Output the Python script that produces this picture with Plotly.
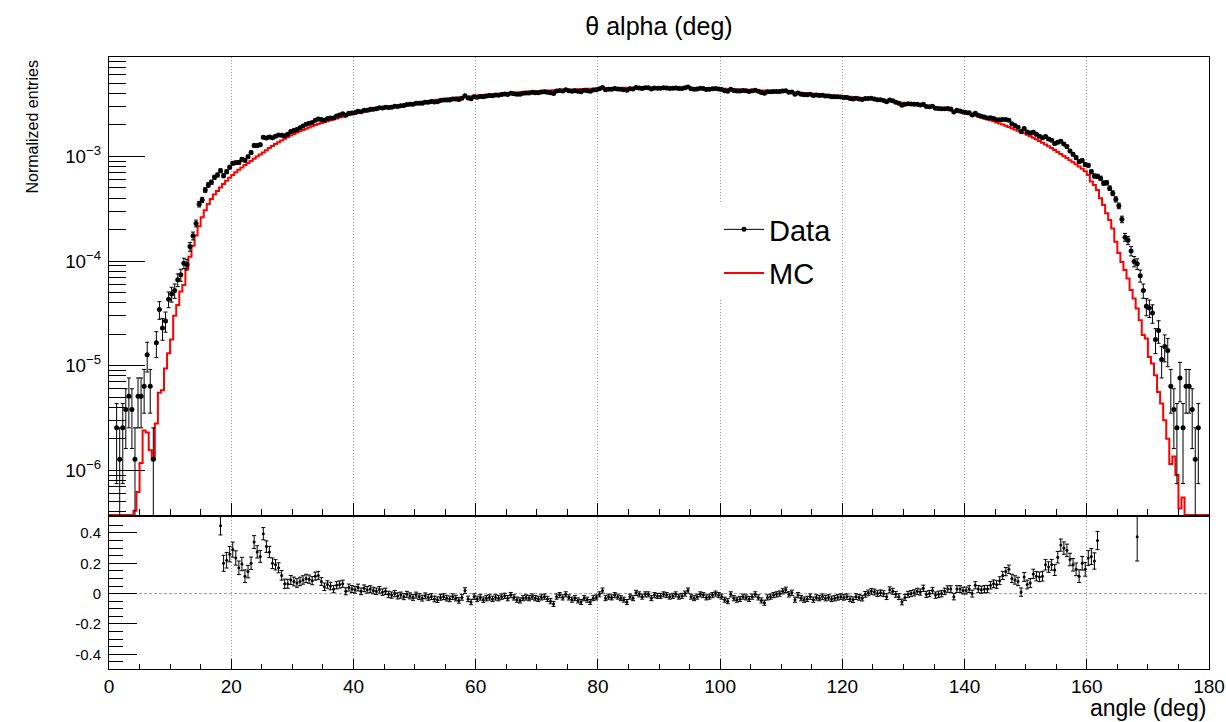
import numpy as np
import plotly.graph_objects as go

# ---------------- data ----------------
TITLE = "\u03b8 alpha (deg)"
X_TITLE = "angle (deg)"
Y_TITLE = "Normalized entries"
LEGEND_DATA = "Data"
LEGEND_MC = "MC"

X_MIN, X_MAX, N_BINS = 0.0, 180.0, 360          # 0.5 deg bins
N_DATA_NORM = 787000.0                           # one data entry = 1.27e-6 normalized entries

# MC histogram, normalized entries x 1e6, one value per 0.5 deg bin (10 deg per row)
mc_ppm = [
    0, 0, 0, 0, 0, 0, 0, 0, 0.41, 0.62, 1.17, 2.4, 2.3, 1.55, 1.27, 2.8, 5.5, 5.8, 9.4, 13.1,
    17.8, 30, 38, 51, 59, 85, 110, 140, 175, 215, 262, 305, 350, 392, 432, 468, 505, 545, 585, 625,
    665, 705, 745, 785, 825, 865, 905, 950, 995, 1040, 1090, 1145, 1200, 1255, 1310, 1365, 1420, 1475, 1530, 1585,
    1640, 1690, 1740, 1790, 1840, 1890, 1940, 1990, 2035, 2080, 2125, 2170, 2215, 2260, 2305, 2350, 2395, 2440, 2480, 2520,
    2560, 2595, 2630, 2665, 2700, 2735, 2770, 2805, 2840, 2875, 2910, 2945, 2980, 3015, 3050, 3085, 3120, 3155, 3190, 3225,
    3260, 3290, 3320, 3350, 3380, 3410, 3440, 3470, 3500, 3530, 3560, 3590, 3615, 3640, 3665, 3690, 3715, 3740, 3765, 3790,
    3815, 3840, 3865, 3890, 3910, 3930, 3950, 3970, 3990, 4010, 4030, 4050, 4070, 4090, 4110, 4130, 4150, 4165, 4180, 4195,
    4210, 4225, 4240, 4255, 4270, 4285, 4300, 4315, 4330, 4345, 4360, 4370, 4380, 4390, 4400, 4410, 4420, 4430, 4440, 4450,
    4460, 4468, 4476, 4484, 4492, 4500, 4506, 4512, 4518, 4524, 4528, 4532, 4536, 4540, 4542, 4544, 4546, 4548, 4549, 4550,
    4550, 4549, 4548, 4546, 4543, 4540, 4536, 4532, 4527, 4522, 4516, 4510, 4503, 4496, 4488, 4480, 4472, 4464, 4455, 4446,
    4436, 4426, 4416, 4405, 4394, 4382, 4370, 4358, 4345, 4332, 4318, 4304, 4290, 4275, 4260, 4245, 4230, 4214, 4198, 4182,
    4165, 4148, 4130, 4112, 4094, 4075, 4056, 4037, 4017, 3997, 3977, 3956, 3935, 3914, 3892, 3870, 3848, 3826, 3803, 3780,
    3757, 3734, 3710, 3686, 3662, 3637, 3612, 3587, 3561, 3535, 3509, 3482, 3455, 3428, 3400, 3372, 3344, 3315, 3286, 3257,
    3228, 3198, 3168, 3138, 3107, 3076, 3045, 3013, 2981, 2949, 2916, 2883, 2850, 2816, 2782, 2748, 2713, 2678, 2643, 2608,
    2572, 2530, 2488, 2444, 2400, 2354, 2308, 2260, 2212, 2162, 2112, 2062, 2012, 1962, 1912, 1862, 1812, 1762, 1712, 1662,
    1612, 1560, 1508, 1456, 1404, 1352, 1300, 1250, 1200, 1150, 1100, 1055, 1010, 965, 920, 880, 840, 800, 760, 720,
    665, 574, 534, 478, 398, 343, 286, 247, 205, 153, 119, 98, 82, 68, 52.7, 43.9, 35.2, 27.2, 19.6, 18.2,
    12.1, 10.5, 8.1, 5.6, 4.35, 3.0, 2.0, 1.15, 1.35, 0.9, 0.43, 0.55, 0, 0, 0, 0, 0, 0, 0, 0,
]

# Data histogram, raw entries per 0.5 deg bin (10 deg per row)
data_counts = [
    0, 0, 2, 1, 2, 3, 4, 3, 1, 4, 4, 5, 10, 5, 1, 13, 27, 18, 21, 34,
    38, 41, 52, 58, 75, 73, 108, 137, 180, 275, 302, 376, 420, 445, 496, 523, 575, 515, 562, 620,
    675, 685, 686, 738, 724, 780, 855, 1002, 998, 1019, 1197, 1180, 1204, 1185, 1227, 1257, 1252, 1236, 1282, 1360,
    1394, 1423, 1479, 1535, 1593, 1629, 1656, 1746, 1794, 1768, 1748, 1810, 1830, 1832, 1914, 1960, 2007, 1949, 2030, 2043,
    2065, 2124, 2101, 2170, 2178, 2217, 2224, 2241, 2291, 2286, 2324, 2306, 2322, 2373, 2364, 2404, 2406, 2471, 2473, 2475,
    2540, 2537, 2535, 2597, 2594, 2630, 2612, 2622, 2686, 2722, 2718, 2726, 2788, 2779, 2754, 2831, 2982, 2840, 2800, 2923,
    2897, 2946, 2920, 2969, 3000, 2985, 3031, 3030, 3077, 3109, 3077, 3155, 3123, 3090, 3089, 3153, 3184, 3180, 3224, 3202,
    3197, 3242, 3270, 3232, 3192, 3143, 3316, 3362, 3323, 3403, 3345, 3301, 3344, 3300, 3272, 3367, 3340, 3295, 3389, 3415,
    3492, 3587, 3417, 3458, 3447, 3506, 3475, 3444, 3413, 3365, 3492, 3460, 3588, 3555, 3503, 3558, 3560, 3472, 3544, 3527,
    3527, 3562, 3543, 3506, 3521, 3555, 3499, 3513, 3563, 3630, 3483, 3443, 3473, 3520, 3497, 3438, 3449, 3478, 3506, 3464,
    3421, 3344, 3301, 3450, 3354, 3311, 3319, 3361, 3335, 3290, 3330, 3370, 3292, 3213, 3152, 3257, 3262, 3283, 3287, 3291,
    3327, 3346, 3234, 3252, 3093, 3175, 3096, 3050, 3051, 3083, 3005, 3035, 3004, 3019, 2971, 2970, 2922, 2921, 2918, 2915,
    2883, 2880, 2818, 2785, 2824, 2790, 2758, 2809, 2817, 2824, 2790, 2740, 2733, 2698, 2622, 2720, 2671, 2596, 2534, 2422,
    2477, 2504, 2493, 2482, 2482, 2445, 2480, 2359, 2346, 2367, 2272, 2258, 2243, 2249, 2255, 2228, 2092, 2171, 2142, 2093,
    2064, 2051, 1958, 2029, 1946, 1899, 1870, 1832, 1837, 1812, 1762, 1761, 1773, 1768, 1746, 1612, 1554, 1498, 1360, 1452,
    1345, 1314, 1341, 1278, 1227, 1186, 1217, 1156, 1124, 1045, 1073, 1096, 1033, 976, 887, 824, 767, 702, 718, 657,
    646, 562, 511, 508, 487, 437, 441, 391, 350, 306, 265, 197, 133, 124, 98, 78, 74, 57, 41, 29,
    28, 25, 14, 17, 9, 12, 11, 5, 3, 2, 6, 2, 5, 5, 3, 1, 2, 0, 0, 0,
]

# (Data - MC)/MC for bins 36 .. 323 (18.25 .. 161.75 deg)
RATIO_FIRST_BIN = 36
ratio_values = [
    0.447, 0.20, 0.22, 0.26, 0.29, 0.235, 0.17, 0.195, 0.115, 0.145, 0.20, 0.34, 0.275, 0.245, 0.395, 0.31, 0.275, 0.20, 0.19, 0.17,
    0.12, 0.065, 0.065, 0.09, 0.08, 0.07, 0.08, 0.09, 0.10, 0.095, 0.085, 0.115, 0.12, 0.08, 0.045, 0.06, 0.05, 0.03, 0.055, 0.06,
    0.065, 0.015, 0.04, 0.03, 0.025, 0.04, 0.015, 0.035, 0.025, 0.03, 0.02, 0.015, 0.025, 0.01, 0.015,
    -0.005, -0.01, 0.0, -0.015, -0.01, -0.02, -0.005, -0.015, -0.025, -0.01, -0.02, -0.03, -0.015, -0.025, -0.02,
    -0.035, -0.04, -0.025, -0.02, -0.03, -0.035, -0.02, -0.03, -0.045, -0.025, 0.02, -0.035, -0.055, -0.02,
    -0.035, -0.025, -0.04, -0.03, -0.025, -0.035, -0.025, -0.03, -0.02, -0.015, -0.03, -0.01, -0.025, -0.04, -0.045, -0.03, -0.025, -0.03, -0.02,
    -0.03, -0.035, -0.025, -0.02, -0.035, -0.05, -0.068, -0.02, -0.01, -0.025, -0.005, -0.025, -0.04, -0.03, -0.045, -0.055, -0.03, -0.04, -0.055, -0.03, -0.025,
    -0.005, 0.02, -0.03, -0.02, -0.025, -0.01, -0.02, -0.03, -0.04, -0.055, -0.02, -0.03, 0.005, -0.005, -0.02, -0.005, -0.005, -0.03, -0.01, -0.015,
    -0.015, -0.005, -0.01, -0.02, -0.015, -0.005, -0.02, -0.015, 0.0, 0.02, -0.02, -0.03, -0.02, -0.005, -0.01, -0.025, -0.02, -0.01, 0.0, -0.01,
    -0.02, -0.04, -0.05, -0.005, -0.03, -0.04, -0.035, -0.02, -0.025, -0.035, -0.02, -0.005, -0.025, -0.045, -0.06, -0.025, -0.02, -0.01, -0.005, 0.0,
    0.015, 0.025, -0.005, 0.005, -0.04, -0.01, -0.03, -0.04, -0.035, -0.02, -0.04, -0.025, -0.03, -0.02, -0.03, -0.025, -0.035, -0.03, -0.025, -0.02,
    -0.025, -0.02, -0.035, -0.04, -0.02, -0.025, -0.03, -0.005, 0.005, 0.015, 0.01, 0.0, 0.005, 0.0, -0.02, 0.025, 0.015, -0.005, -0.02, -0.055,
    -0.025, -0.005, 0.0, 0.005, 0.015, 0.01, 0.035, -0.005, 0.0, 0.02, -0.01, -0.005, 0.0, 0.015, 0.03,
    0.03, -0.02, 0.03, 0.03, 0.02, 0.02, 0.03, 0.0, 0.055, 0.03, 0.025, 0.03, 0.03, 0.055, 0.065, 0.06, 0.085, 0.12, 0.145, 0.16,
    0.10, 0.09, 0.08, 0.01, 0.11, 0.06, 0.07, 0.13, 0.115, 0.11, 0.115, 0.19, 0.175, 0.19, 0.155, 0.24, 0.32, 0.30, 0.285, 0.225,
    0.19, 0.16, 0.115, 0.20, 0.16, 0.235, 0.245, 0.215, 0.35,
]
# isolated ratio point far in the tail
ratio_extra_bins = [336]
ratio_extra_values = [0.375]

X_TICK_STEP, X_MINOR_STEP = 20, 5
RATIO_TICKVALS = [-0.4, -0.2, 0, 0.2, 0.4]
RATIO_TICKTEXT = ["-0.4", "-0.2", "0", "0.2", "0.4"]

# ---------------- derived histogram quantities ----------------
edges = np.linspace(X_MIN, X_MAX, N_BINS + 1)
centers = 0.5 * (edges[:-1] + edges[1:])

LOG_Y_RANGE = [-6.428, -2.05]
y_floor = 10 ** LOG_Y_RANGE[0]

mc = np.array(mc_ppm, dtype=float) * 1e-6
mc_draw = np.where(mc > 0, mc, y_floor)
mc_step_y = np.append(mc_draw, mc_draw[-1])

counts = np.array(data_counts, dtype=float)
has_data = counts > 0
data_val = counts[has_data] / N_DATA_NORM
data_err = np.sqrt(counts[has_data]) / N_DATA_NORM
data_err_lo = np.minimum(data_err, data_val - 1e-10)

r_bins = np.array(list(range(RATIO_FIRST_BIN, RATIO_FIRST_BIN + len(ratio_values))) + ratio_extra_bins)
r_vals = np.array(list(ratio_values) + list(ratio_extra_values))
r_err = (1 + r_vals) / np.sqrt(counts[r_bins])

FONT = "Liberation Sans, Arial, Helvetica, sans-serif"

fig = go.Figure()

fig.add_trace(go.Scatter(
    x=edges, y=mc_step_y, mode="lines", line=dict(color="#ff0000", width=2, shape="hv"),
    name=LEGEND_MC, showlegend=False, xaxis="x", yaxis="y"))

fig.add_trace(go.Scatter(
    x=centers[has_data], y=data_val, mode="markers",
    marker=dict(color="black", size=5),
    error_y=dict(type="data", array=data_err, arrayminus=data_err_lo, color="black", thickness=1, width=2),
    showlegend=False, xaxis="x", yaxis="y"))

fig.add_trace(go.Scatter(
    x=centers[r_bins], y=r_vals, mode="markers",
    marker=dict(color="black", size=3),
    error_y=dict(type="data", array=r_err, color="black", thickness=1, width=2),
    showlegend=False, xaxis="x2", yaxis="y2"))

# legend entries
fig.add_trace(go.Scatter(x=[None], y=[None], mode="lines+markers", name=LEGEND_DATA,
                         line=dict(color="black", width=1), marker=dict(color="black", size=5),
                         legendgroup="a", xaxis="x", yaxis="y"))
fig.add_trace(go.Scatter(x=[None], y=[None], mode="lines", name=LEGEND_MC,
                         line=dict(color="#ff0000", width=2), legendgroup="b", xaxis="x", yaxis="y"))

W, H = 1226, 722
ML, MR, MT, MB = 109, 17, 57, 53
PW = W - ML - MR
PH = H - MT - MB
top_dom = [(669 - 515) / PH, 1.0]
bot_dom = [0.0, (669 - 517) / PH]

axis_common = dict(showline=True, linecolor="black", linewidth=1, mirror=True, automargin=False)
grid = dict(showgrid=True, gridcolor="#9a9a9a", griddash="1px,2px", gridwidth=1)

fig.update_layout(
    template="none",
    width=W, height=H,
    margin=dict(l=ML, r=MR, t=MT, b=MB, autoexpand=False),
    paper_bgcolor="white", plot_bgcolor="white",
    font=dict(family=FONT, color="black"),
    title=dict(text=TITLE, x=0.5, xref="paper", xanchor="center",
               y=1 - 26 / H, yref="container", yanchor="middle",
               font=dict(size=25, family=FONT, color="black")),
    xaxis=dict(domain=[0, 1], anchor="y", range=[X_MIN, X_MAX], dtick=X_TICK_STEP, tick0=0,
               ticks="inside", ticklen=12, tickcolor="black", showticklabels=False,
               minor=dict(dtick=X_MINOR_STEP, ticks="inside", ticklen=6, tickcolor="black", showgrid=False),
               zeroline=False, matches="x2", **grid, **axis_common),
    yaxis=dict(domain=top_dom, anchor="x", type="log", range=LOG_Y_RANGE, dtick=1,
               exponentformat="power", ticks="inside", ticklen=36, tickcolor="black",
               minor=dict(dtick="D1", ticks="inside", ticklen=17, tickcolor="black", showgrid=False),
               tickfont=dict(size=15, family=FONT), showgrid=False, zeroline=False,
               ticklabelstandoff=4, **axis_common),
    xaxis2=dict(domain=[0, 1], anchor="y2", range=[X_MIN, X_MAX], dtick=X_TICK_STEP, tick0=0,
                ticks="inside", ticklen=10, tickcolor="black",
                minor=dict(dtick=X_MINOR_STEP, ticks="inside", ticklen=5, tickcolor="black", showgrid=False),
                tickfont=dict(size=19, family=FONT), zeroline=False, **grid, **axis_common),
    yaxis2=dict(domain=bot_dom, anchor="x2", range=[-0.497, 0.505],
                tickmode="array", tickvals=RATIO_TICKVALS, ticktext=RATIO_TICKTEXT,
                ticks="inside", ticklen=28, tickcolor="black",
                minor=dict(tickmode="linear", tick0=0, dtick=0.05, ticks="inside", ticklen=14,
                           tickcolor="black", showgrid=False),
                tickfont=dict(size=15, family=FONT), showgrid=False, zeroline=False,
                ticklabelstandoff=4, **axis_common),
    legend=dict(x=(719 - ML) / PW, y=(669 - 204) / PH, xanchor="left", yanchor="top",
                bgcolor="white", borderwidth=0, font=dict(size=29, family=FONT),
                itemwidth=40, tracegroupgap=3, traceorder="grouped"),
    showlegend=True,
)

# dotted reference line at zero in the ratio panel
fig.add_shape(type="line", xref="x2 domain", yref="y2", x0=0, x1=1, y0=0, y1=0,
              line=dict(color="#9a9a9a", width=1, dash="3px,2px"), layer="below")

fig.add_annotation(text=Y_TITLE, textangle=-90, xref="paper", yref="paper",
                   x=(32 - ML) / PW, y=(669 - 58) / PH, xanchor="center", yanchor="top",
                   showarrow=False, font=dict(size=16, family=FONT, color="black"))
fig.add_annotation(text=X_TITLE, xref="paper", yref="paper",
                   x=(1208 - ML) / PW, y=(669 - 708) / PH, xanchor="right", yanchor="middle",
                   showarrow=False, font=dict(size=23, family=FONT, color="black"))

fig.write_html("out.html", config={"displayModeBar": False},
               post_script="document.body.style.margin='0';")
